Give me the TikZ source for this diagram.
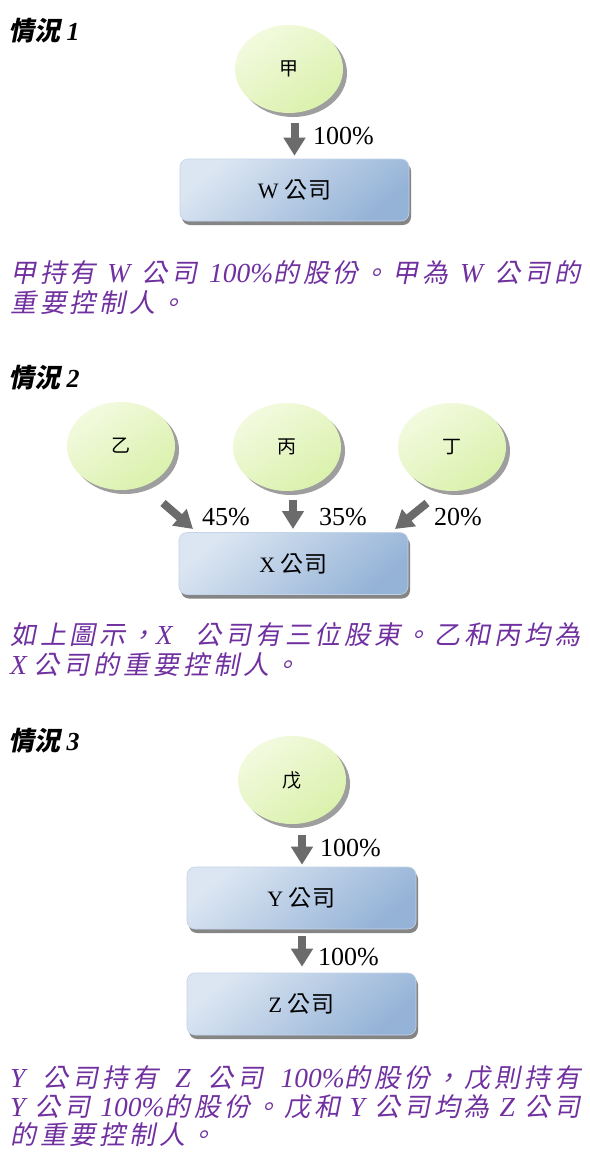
\documentclass[tikz,border=0pt]{standalone}
\usepackage{fontspec}
\setmainfont{Liberation Serif}
\newfontfamily\cjup{Noto Sans CJK TC}
\newfontfamily\cjbox{Noto Sans CJK TC}[LetterSpace=4]
\newfontfamily\cjit{Noto Sans CJK TC}[FakeSlant=0.2,LetterSpace=15]
\newfontfamily\cjhead{Noto Sans CJK TC}[FakeSlant=0.2]
\usetikzlibrary{shapes.geometric,shadows,arrows.meta}
\definecolor{Purple}{HTML}{7030A0}
\definecolor{EllTop}{HTML}{F3FADF}
\definecolor{EllBot}{HTML}{DAF1AC}
\definecolor{BoxTop}{HTML}{DCE6F2}
\definecolor{BoxBot}{HTML}{95B3D7}
\definecolor{BoxEdge}{HTML}{C3D4E9}
\definecolor{ArrGray}{HTML}{6B6B6B}
\newcommand\zh[1]{{\cjit\fontsize{26}{30}\selectfont #1}}
\newcommand\co[1]{{\cjbox\fontsize{23}{23}\selectfont #1}}
\newcommand\jline[1]{\makebox[570pt][s]{#1}}
\tikzset{
  person/.style={ellipse, minimum width=108pt, minimum height=88pt, inner sep=0pt,
    top color=EllTop, bottom color=EllBot, shading angle=35,
    drop shadow={shadow xshift=4pt, shadow yshift=-4pt, fill=black!38, opacity=1},
    font=\cjup\fontsize{19}{19}\selectfont},
  company/.style={rectangle, rounded corners=8pt, minimum width=229pt, minimum height=62pt, inner sep=0pt,
    top color=BoxTop, bottom color=BoxBot, shading angle=40, draw=BoxEdge, line width=0.6pt,
    drop shadow={shadow xshift=2pt, shadow yshift=-4pt, fill=black!48, opacity=1},
    font=\fontsize{22}{22}\selectfont},
  fat/.style={draw=ArrGray, line width=8pt, -{Triangle[width=21pt,length=18pt]}, color=ArrGray},
  pct/.style={anchor=west, inner sep=0pt, font=\fontsize{26}{26}\selectfont},
  heading/.style={anchor=base west, inner sep=0pt, font=\fontsize{26}{30}\selectfont\bfseries\itshape},
  ptext/.style={anchor=base west, inner sep=0pt, text=Purple, font=\fontsize{27.5}{30}\selectfont\itshape}
}
\begin{document}
\begin{tikzpicture}[x=1pt,y=-1pt]
\useasboundingbox (0,0) rectangle (589,1156);
\fill[white] (0,0) rectangle (589,1156);

% ---------- Case 1 ----------
\node[heading] (h1) at (8,41) {{\cjhead\bfseries 情況} 1};
\node[person] (jia) at (289,69) {甲};
\node[company] (w) at (294.5,190) {W \co{公司}};
\draw[fat] ([yshift=-10pt]w.north |- jia.south) -- ([yshift=3pt]w.north);
\node[pct] (p1) at (313,136) {100\%};
\node[ptext] (t1a) at (10,282) {\jline{\zh{甲持有} W \zh{公司} 100\%\zh{的股份。甲為} W \zh{公司的}}};
\node[ptext] (t1b) at (10,312) {\zh{重要控制人。}};

% ---------- Case 2 ----------
\node[heading] (h2) at (8,387) {{\cjhead\bfseries 情況} 2};
\node[person] (yi) at (121,446) {乙};
\node[person] (bing) at (287,447) {丙};
\node[person] (ding) at (452,447) {丁};
\node[company] (x) at (293.5,563.5) {X \co{公司}};
\coordinate (ya) at (163,503);
\coordinate (yb) at (193,529);
\coordinate (ba) at (293,500);
\coordinate (bb) at (293,529);
\coordinate (da) at (427,503);
\coordinate (db) at (395,529);
\draw[fat] (ya) -- (yb);
\draw[fat] (ba) -- (bb);
\draw[fat] (da) -- (db);
\node[pct] (p45) at (202,517) {45\%};
\node[pct] (p35) at (319,517) {35\%};
\node[pct] (p20) at (434,517) {20\%};
\node[ptext] (t2a) at (10,644) {\jline{\zh{如上圖示，}X \zh{公司有三位股東。乙和丙均為}}};
\node[ptext] (t2b) at (10,674) {X \zh{公司的重要控制人。}};

% ---------- Case 3 ----------
\node[heading] (h3) at (8,750) {{\cjhead\bfseries 情況} 3};
\node[person] (wu) at (292,780) {戊};
\node[company] (y) at (301.5,898) {Y \co{公司}};
\node[company] (z) at (301.5,1004) {Z \co{公司}};
\draw[fat] ([xshift=0.5pt,yshift=-11pt]y.north |- wu.south) -- ([xshift=0.5pt,yshift=2pt]y.north);
\draw[fat] ([xshift=0.5pt,yshift=-7pt]y.south) -- ([xshift=0.5pt,yshift=6pt]z.north);
\node[pct] (p3a) at (320,848) {100\%};
\node[pct] (p3b) at (318,957) {100\%};
\node[ptext] (t3a) at (10,1087) {\jline{Y \zh{公司持有} Z \zh{公司} 100\%\zh{的股份，戊則持有}}};
\node[ptext] (t3b) at (10,1116) {\jline{Y \zh{公司} 100\%\zh{的股份。戊和} Y \zh{公司均為} Z \zh{公司}}};
\node[ptext] (t3c) at (10,1144) {\zh{的重要控制人。}};
\end{tikzpicture}
\end{document}
